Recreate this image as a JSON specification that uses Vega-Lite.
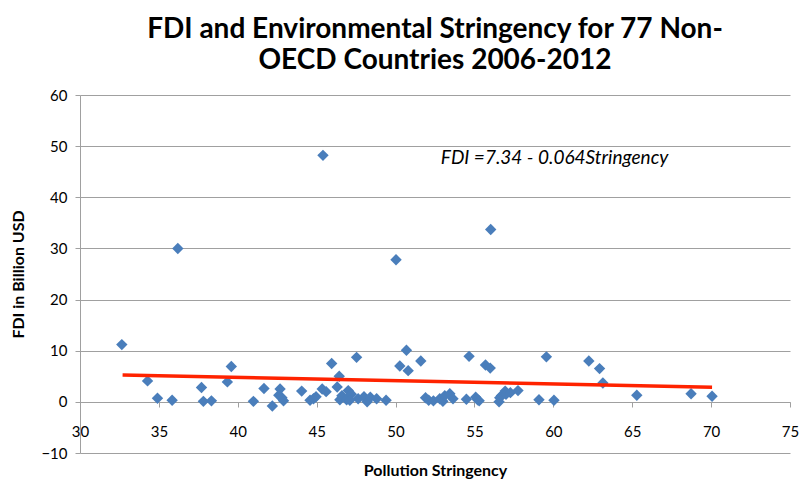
{
  "$schema": "https://vega.github.io/schema/vega-lite/v6.json",
  "width": 710,
  "height": 358,
  "autosize": "none",
  "padding": {"left": 80, "top": 95, "right": 10, "bottom": 29},
  "background": "white",
  "title": {
    "text": ["FDI and Environmental Stringency for 77 Non-", "OECD Countries 2006-2012"],
    "font": "Lato",
    "fontSize": 28,
    "fontWeight": "bold",
    "color": "#000000",
    "lineHeight": 31,
    "anchor": "middle",
    "offset": 13
  },
  "config": {
    "view": {"stroke": null},
    "axis": {"labelFont": "Lato", "titleFont": "Lato", "labelColor": "#000", "titleColor": "#000"}
  },
  "datasets": {
    "countries": [
      {"stringency": 32.65, "fdi": 11.2},
      {"stringency": 34.28, "fdi": 4.1},
      {"stringency": 34.91, "fdi": 0.7},
      {"stringency": 35.84, "fdi": 0.3},
      {"stringency": 36.2, "fdi": 30.0},
      {"stringency": 37.7, "fdi": 2.8},
      {"stringency": 37.82, "fdi": 0.1},
      {"stringency": 38.33, "fdi": 0.2},
      {"stringency": 39.34, "fdi": 3.9},
      {"stringency": 39.59, "fdi": 6.9},
      {"stringency": 40.99, "fdi": 0.1},
      {"stringency": 41.66, "fdi": 2.6},
      {"stringency": 42.19, "fdi": -0.8},
      {"stringency": 42.68, "fdi": 2.5},
      {"stringency": 42.6, "fdi": 1.3},
      {"stringency": 42.9, "fdi": 0.2},
      {"stringency": 42.8, "fdi": 0.8},
      {"stringency": 44.05, "fdi": 2.1},
      {"stringency": 44.58, "fdi": 0.3},
      {"stringency": 44.8, "fdi": 0.6},
      {"stringency": 44.96, "fdi": 1.0},
      {"stringency": 45.35, "fdi": 2.5},
      {"stringency": 45.4, "fdi": 48.2},
      {"stringency": 45.6, "fdi": 2.0},
      {"stringency": 45.95, "fdi": 7.5},
      {"stringency": 46.3, "fdi": 2.9},
      {"stringency": 46.43, "fdi": 5.0},
      {"stringency": 46.47, "fdi": 0.4},
      {"stringency": 46.6, "fdi": 1.2},
      {"stringency": 46.9, "fdi": 0.4},
      {"stringency": 47.0, "fdi": 2.2},
      {"stringency": 47.2, "fdi": 1.5},
      {"stringency": 47.53, "fdi": 8.7},
      {"stringency": 47.63, "fdi": 0.6},
      {"stringency": 48.0, "fdi": 1.0},
      {"stringency": 48.2, "fdi": 0.0},
      {"stringency": 48.4, "fdi": 0.9},
      {"stringency": 48.8, "fdi": 0.6},
      {"stringency": 49.4, "fdi": 0.3},
      {"stringency": 50.03, "fdi": 27.8},
      {"stringency": 50.27, "fdi": 7.0},
      {"stringency": 50.69, "fdi": 10.1},
      {"stringency": 50.8, "fdi": 6.1},
      {"stringency": 51.6, "fdi": 8.0},
      {"stringency": 51.9, "fdi": 0.8},
      {"stringency": 52.1, "fdi": 0.3},
      {"stringency": 52.4, "fdi": 0.2},
      {"stringency": 52.8, "fdi": 0.6},
      {"stringency": 53.0, "fdi": 0.1},
      {"stringency": 53.12, "fdi": 1.2},
      {"stringency": 53.44, "fdi": 1.6},
      {"stringency": 53.64, "fdi": 0.6},
      {"stringency": 54.49, "fdi": 0.5},
      {"stringency": 54.66, "fdi": 8.9},
      {"stringency": 55.08, "fdi": 0.9},
      {"stringency": 55.2, "fdi": 0.4},
      {"stringency": 55.3, "fdi": 0.2},
      {"stringency": 55.7, "fdi": 7.2},
      {"stringency": 56.0, "fdi": 6.6},
      {"stringency": 56.03, "fdi": 33.7},
      {"stringency": 56.56, "fdi": 0.0},
      {"stringency": 56.6, "fdi": 0.8},
      {"stringency": 56.71, "fdi": 1.2},
      {"stringency": 56.95, "fdi": 2.1},
      {"stringency": 57.0, "fdi": 1.5},
      {"stringency": 57.28, "fdi": 1.8},
      {"stringency": 57.76, "fdi": 2.2},
      {"stringency": 59.09, "fdi": 0.4},
      {"stringency": 59.56, "fdi": 8.8},
      {"stringency": 60.04, "fdi": 0.3},
      {"stringency": 62.25, "fdi": 8.0},
      {"stringency": 62.93, "fdi": 6.5},
      {"stringency": 63.14, "fdi": 3.7},
      {"stringency": 65.29, "fdi": 1.3},
      {"stringency": 68.73, "fdi": 1.6},
      {"stringency": 70.06, "fdi": 1.1},
      {"stringency": 47.1, "fdi": 0.3}
    ],
    "trend": [
      {"stringency": 32.7, "fdi": 5.25},
      {"stringency": 70.06, "fdi": 2.86}
    ],
    "note": [
      {"stringency": 52.87, "fdi": 47.6, "label": "FDI =7.34 - 0.064Stringency"}
    ]
  },
  "encoding": {
    "x": {
      "field": "stringency",
      "type": "quantitative",
      "scale": {"domain": [30, 75], "nice": false, "zero": false},
      "axis": {
        "title": "Pollution Stringency",
        "titleFontSize": 16,
        "titleFontWeight": "bold",
        "titlePadding": 23,
        "values": [30, 35, 40, 45, 50, 55, 60, 65, 70, 75],
        "offset": -51,
        "labelFlush": false,
        "labelFontSize": 15,
        "labelPadding": 17,
        "tickSize": 5,
        "tickColor": "#a0a0a0",
        "domainColor": "#a0a0a0",
        "grid": false
      }
    },
    "y": {
      "field": "fdi",
      "type": "quantitative",
      "scale": {"domain": [-10, 60], "nice": false, "zero": false},
      "axis": {
        "title": "FDI in Billion USD",
        "titleFontSize": 16,
        "titleFontWeight": "bold",
        "titlePadding": 14,
        "values": [-10, 0, 10, 20, 30, 40, 50, 60],
        "labelFontSize": 15,
        "labelPadding": 8,
        "tickSize": 5,
        "tickColor": "#a0a0a0",
        "domainColor": "#a0a0a0",
        "grid": true,
        "gridColor": "#a0a0a0",
        "gridOpacity": 1
      }
    }
  },
  "layer": [
    {
      "data": {"name": "countries"},
      "mark": {"type": "point", "shape": "diamond", "filled": true, "size": 130, "color": "#4A7EBB", "opacity": 1}
    },
    {
      "data": {"name": "trend"},
      "mark": {"type": "line", "color": "#FF2300", "strokeWidth": 3.5}
    },
    {
      "data": {"name": "note"},
      "mark": {"type": "text", "align": "left", "baseline": "middle", "font": "Lato", "fontStyle": "italic", "fontSize": 19, "color": "#000"},
      "encoding": {"text": {"field": "label"}}
    }
  ]
}
